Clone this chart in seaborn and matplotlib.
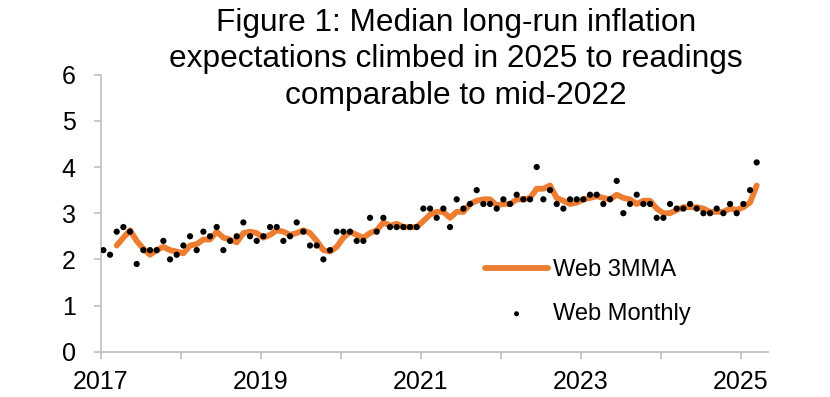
import matplotlib
matplotlib.use("Agg")
import matplotlib.pyplot as plt
import seaborn as sns
import numpy as np
import pandas as pd

# Monthly readings, Jan 2017 .. Mar 2025
start_year = 2017
monthly = [
    2.2, 2.1, 2.6, 2.7, 2.6, 1.9, 2.2, 2.2, 2.2, 2.4, 2.0, 2.1,   # 2017
    2.3, 2.5, 2.2, 2.6, 2.5, 2.7, 2.2, 2.4, 2.5, 2.8, 2.5, 2.4,   # 2018
    2.5, 2.7, 2.7, 2.4, 2.5, 2.8, 2.6, 2.3, 2.3, 2.0, 2.2, 2.6,   # 2019
    2.6, 2.6, 2.4, 2.4, 2.9, 2.6, 2.9, 2.7, 2.7, 2.7, 2.7, 2.7,   # 2020
    3.1, 3.1, 2.9, 3.1, 2.7, 3.3, 3.1, 3.2, 3.5, 3.2, 3.2, 3.1,   # 2021
    3.3, 3.2, 3.4, 3.3, 3.3, 4.0, 3.3, 3.5, 3.2, 3.1, 3.3, 3.3,   # 2022
    3.3, 3.4, 3.4, 3.2, 3.3, 3.7, 3.0, 3.2, 3.4, 3.2, 3.2, 2.9,   # 2023
    2.9, 3.2, 3.1, 3.1, 3.2, 3.1, 3.0, 3.0, 3.1, 3.0, 3.2, 3.0,   # 2024
    3.2, 3.5, 4.1,                                                 # 2025
]

# 3-month moving average line, Mar 2017 .. Mar 2025
mma3 = [
    2.30, 2.47, 2.63, 2.40, 2.23, 2.10, 2.20, 2.27, 2.20, 2.17,
    2.13, 2.30, 2.33, 2.43, 2.43, 2.60, 2.47, 2.43, 2.37, 2.57, 2.60, 2.57,
    2.47, 2.53, 2.63, 2.60, 2.53, 2.57, 2.63, 2.57, 2.40, 2.20, 2.17, 2.27,
    2.47, 2.60, 2.53, 2.47, 2.57, 2.63, 2.80, 2.73, 2.77, 2.70, 2.70, 2.70,
    2.83, 2.97, 3.03, 3.03, 2.90, 3.03, 3.03, 3.20, 3.27, 3.30, 3.30, 3.17,
    3.20, 3.20, 3.30, 3.30, 3.33, 3.53, 3.53, 3.60, 3.33, 3.27, 3.20, 3.23,
    3.30, 3.33, 3.37, 3.33, 3.30, 3.40, 3.33, 3.30, 3.20, 3.27, 3.27, 3.10,
    3.00, 3.00, 3.07, 3.13, 3.13, 3.13, 3.10, 3.03, 3.03, 3.03, 3.10, 3.07,
    3.13, 3.23, 3.60,
]

year_ticks = list(range(2017, 2026))
year_labels = [str(y) if y % 2 == 1 else "" for y in year_ticks]
y_ticks = [0, 1, 2, 3, 4, 5, 6]

title = ("Figure 1: Median long-run inflation\n"
         "expectations climbed in 2025 to readings\n"
         "comparable to mid-2022")

# ---- build frames ----
n = len(monthly)
t = [start_year + (i + 0.4) / 12 for i in range(n)]
df_m = pd.DataFrame({"t": t, "v": monthly})
df_a = pd.DataFrame({"t": t[2:], "v": mma3})

sns.set_style("white")
plt.rcParams["font.family"] = ["Liberation Sans", "DejaVu Sans"]
plt.rcParams["text.color"] = "black"

fig = plt.figure(figsize=(8.3, 3.97), dpi=100)
ax = fig.add_axes([100.7 / 830, 1 - 351.7 / 397, (768.3 - 100.7) / 830, (351.7 - 74.7) / 397])

orange = "#ED7D31"
sns.lineplot(data=df_a, x="t", y="v", ax=ax, color=orange, linewidth=4.2,
             label="Web 3MMA", zorder=2)
sns.scatterplot(data=df_m, x="t", y="v", ax=ax, color="black", s=20,
                edgecolor="none", label="Web Monthly", zorder=3)

ax.set_xlim(2017, 2025.345)
ax.set_ylim(0, 6)
ax.set_xticks(year_ticks)
ax.set_xticklabels(year_labels)
ax.set_yticks(y_ticks)
ax.set_xlabel("")
ax.set_ylabel("")

for side in ["top", "right"]:
    ax.spines[side].set_visible(False)
for side in ["left", "bottom"]:
    ax.spines[side].set_color("#BFBFBF")
    ax.spines[side].set_linewidth(1.2)

ax.tick_params(axis="both", which="both", direction="out", length=5, width=1.2,
               color="#BFBFBF", labelsize=18, labelcolor="black")
ax.tick_params(axis="x", pad=8)
ax.tick_params(axis="y", pad=13)
ax.tick_params(left=True, bottom=True)

leg = ax.legend(loc="upper left", bbox_to_anchor=(485 / 830, 1 - 259 / 397),
                bbox_transform=fig.transFigure, frameon=False, fontsize=17,
                borderpad=0, borderaxespad=0, handlelength=2.67,
                handletextpad=0.2, labelspacing=0.93, markerscale=0.8)
for txt in leg.get_texts():
    txt.set_color("black")

fig.text(456 / 830, 1 - 8 / 397, title, ha="center", va="top", fontsize=22.8,
         linespacing=1.28, color="black")

fig.savefig("out.png", dpi=100)
